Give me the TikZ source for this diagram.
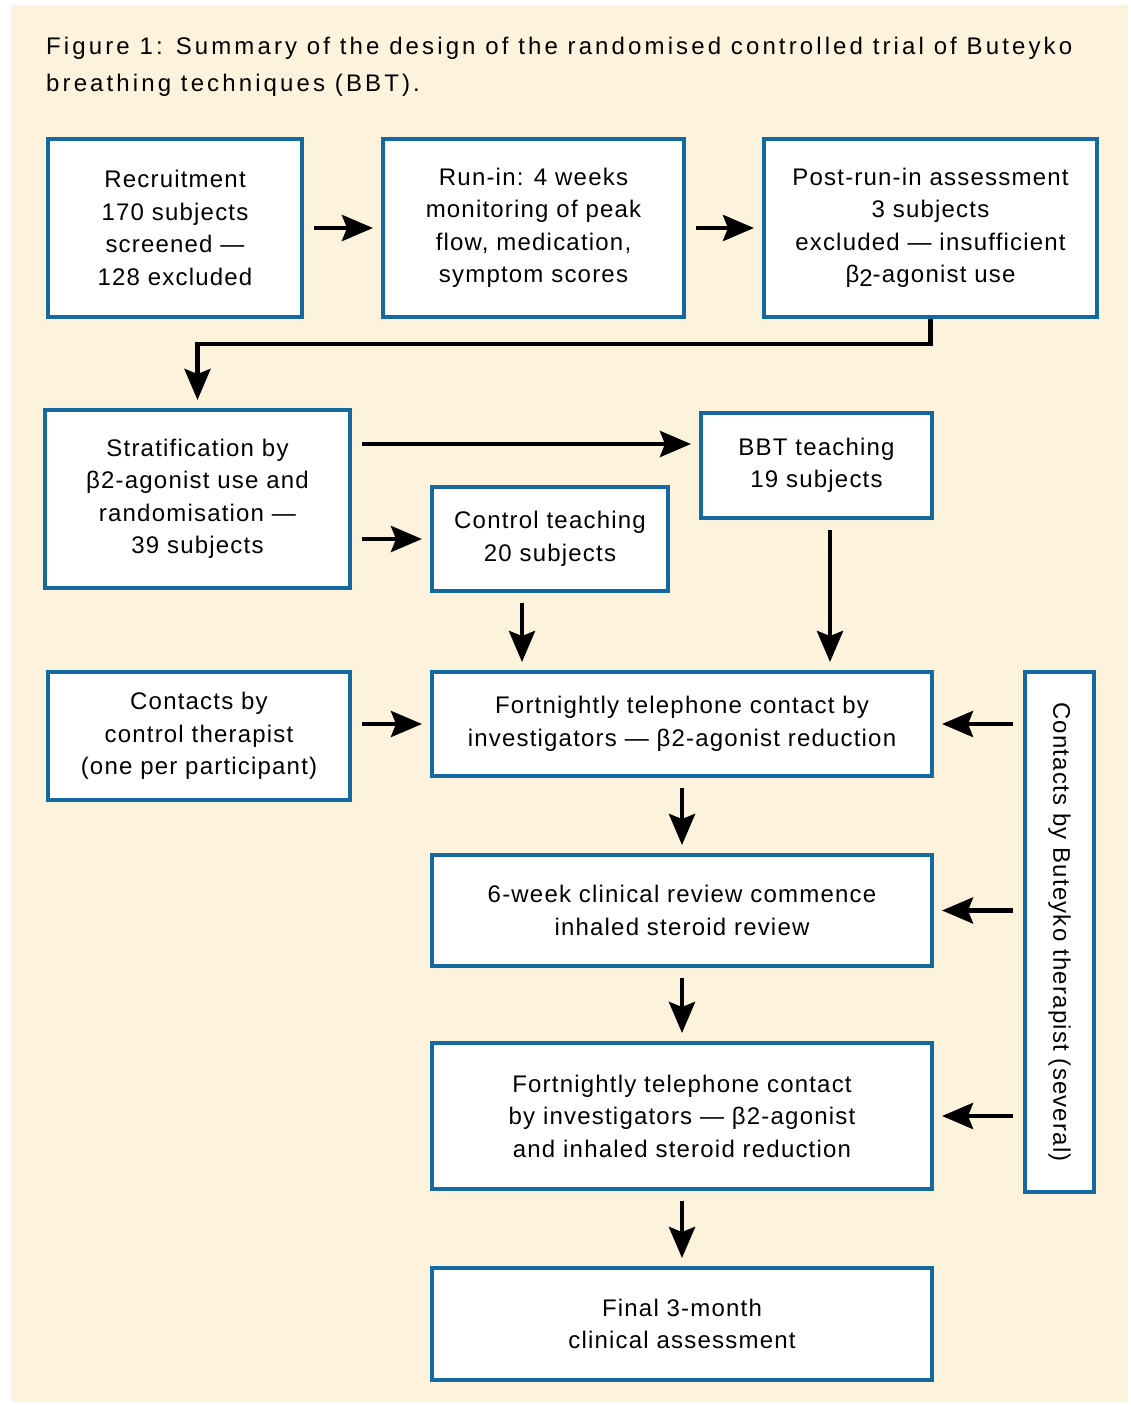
\documentclass[tikz,border=0pt]{standalone}
\usepackage{fontspec}
\setmainfont{Liberation Sans}[LetterSpace=5]
\usetikzlibrary{arrows.meta,calc}
\definecolor{cream}{RGB}{253,242,220}
\definecolor{boxblue}{RGB}{20,105,160}
\begin{document}
\begin{tikzpicture}[x=1pt,y=-1pt,
  box/.style={draw=boxblue, line width=4pt, fill=white, align=center, inner sep=0pt,
    font=\fontsize{24}{32.5}\selectfont},
  arr/.style={line width=4.5pt, -{Stealth[length=31pt,width=26pt,inset=5pt]},
    shorten >=8pt, shorten <=10pt}]
\useasboundingbox (0,0) rectangle (1131,1405);
\fill[white] (0,0) rectangle (1131,1405);
\fill[cream] (11,5) rectangle (1128,1402);

\node[anchor=base west, align=left, inner sep=0pt, font=\fontsize{24}{36}\selectfont\addfontfeatures{LetterSpace=13}] (title) at (46,91)
  {Figure 1: Summary of the design of the randomised controlled trial of Buteyko\\breathing techniques (BBT).};

\node[box, minimum width=254pt, minimum height=178pt] (rec) at (175,228)
  {Recruitment\\170 subjects\\screened —\\128 excluded};
\node[box, minimum width=301pt, minimum height=178pt] (run) at (533.5,228)
  {Run-in: 4 weeks\\monitoring of peak\\flow, medication,\\symptom scores};
\node[box, minimum width=333pt, minimum height=178pt] (post) at (930.5,228)
  {Post-run-in assessment\\3 subjects\\excluded — insufficient\\β\raisebox{-4pt}{2}-agonist use};
\node[box, minimum width=305pt, minimum height=178pt] (strat) at (197.5,499)
  {Stratification by\\β2-agonist use and\\randomisation —\\39 subjects};
\node[box, minimum width=231pt, minimum height=105pt] (bbt) at (816.5,465.5)
  {BBT teaching\\19 subjects};
\node[box, minimum width=236pt, minimum height=104pt] (ctrl) at (550,539)
  {Control teaching\\20 subjects};
\node[box, minimum width=302pt, minimum height=128pt] (cc) at (199,736)
  {Contacts by\\control therapist\\(one per participant)};
\node[box, minimum width=500pt, minimum height=104pt] (f1) at (682,724)
  {Fortnightly telephone contact by\\investigators — β2-agonist reduction};
\node[box, minimum width=500pt, minimum height=111pt] (six) at (682,910.5)
  {6-week clinical review commence\\inhaled steroid review};
\node[box, minimum width=500pt, minimum height=146pt] (f2) at (682,1116)
  {Fortnightly telephone contact\\by investigators — β2-agonist\\and inhaled steroid reduction};
\node[box, minimum width=500pt, minimum height=112pt] (fin) at (682,1324)
  {Final 3-month\\clinical assessment};
\node[box, minimum width=69pt, minimum height=520pt] (but) at (1059.5,932)
  {\rotatebox{-90}{Contacts by Buteyko therapist (several)}};

\draw[arr] (rec) -- (run);
\draw[arr] (run) -- (post);
\coordinate (m) at ($(post.south)+(0,25)$);
\draw[arr, shorten <=0pt] (post.south) -- (m) -| (strat.north);
\coordinate (s1) at ([yshift=55pt]strat.east);
\draw[arr] (s1) -- (s1 -| bbt.west);
\draw[arr] (strat.east |- ctrl.west) -- (ctrl.west);
\coordinate (c1) at ([xshift=-28pt]ctrl.south);
\draw[arr] (c1) -- (c1 |- f1.north);
\coordinate (b1) at ([xshift=13.5pt]bbt.south);
\draw[arr] (b1) -- (b1 |- f1.north);
\draw[arr] (cc.east |- f1.west) -- (f1.west);
\draw[arr] (but.west |- f1.east) -- (f1.east);
\draw[arr] (but.west |- six.east) -- (six.east);
\draw[arr] (but.west |- f2.east) -- (f2.east);
\draw[arr] (f1) -- (six);
\draw[arr] (six) -- (f2);
\draw[arr] (f2) -- (fin);
\end{tikzpicture}
\end{document}
